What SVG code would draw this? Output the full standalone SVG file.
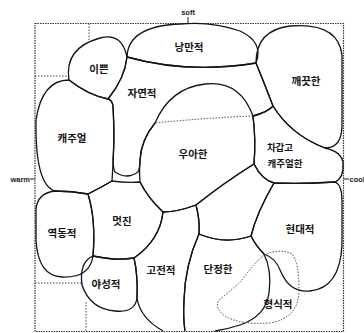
<svg xmlns="http://www.w3.org/2000/svg" width="364" height="333" viewBox="0 0 364 333">
<style>
.b{fill:none;stroke:#141414;stroke-width:1.3;stroke-linejoin:round}
.k{font-family:"Noto Sans CJK KR","Noto Sans",sans-serif;font-size:10.5px;font-weight:700;fill:#151515;text-anchor:middle;dominant-baseline:central}
.ax{font-family:"Liberation Sans",Arial,sans-serif;font-size:7.5px;font-weight:700;fill:#222;dominant-baseline:central}
.frame{fill:none;stroke:#333;stroke-width:1.2;stroke-dasharray:1.5 1}
.dot{fill:none;stroke:#444;stroke-width:1;stroke-dasharray:1.5 1.5}
.tick{stroke:#222;stroke-width:1}
</style>
<rect width="364" height="333" fill="#ffffff"/>
<g id="axes">
<rect class="frame" x="35" y="23.5" width="308.5" height="308"/>
<path class="dot" d="M89,23.5 V42"/>
<path class="dot" d="M35,76 H67"/>
<path class="dot" d="M35,283 H82"/>
<path class="dot" d="M86,302 V331.5"/>
<path class="tick" d="M188,17 V23.5"/>
<path class="tick" d="M30,179 H35"/>
<path class="tick" d="M343.5,179 H349"/>
<text class="ax" x="188" y="12.5" text-anchor="middle">soft</text>
<text class="ax" x="30" y="179" text-anchor="end">warm</text>
<text class="ax" x="349.5" y="179">cool</text>
</g>
<g id="romantic"><path class="b" d="M127,57 Q188,74 256,63 Q264,42 240,31 Q212,21 180,24 Q128,26 127,57 Z"/><text class="k" x="189" y="46">낭만적</text></g>
<g id="pretty"><path class="b" d="M69,80 Q64,48 100,38 Q122,32 127,57 Q125,78 108,99 Q88,95 69,80 Z"/><text class="k" x="99" y="68">이쁜</text></g>
<g id="clean"><path class="b" d="M256,63 Q256,30 290,26 Q338,22 342,55 L342,125 Q342,148 325,148 Q291,135 273,106 Q265,85 256,63 Z"/><text class="k" x="306" y="80">깨끗한</text></g>
<g id="natural"><path class="b" d="M155,123 Q141,140 140,160 Q140,168 138,172 Q127,180 115,172 Q113,168 113,160 Q115,137 113,106 Q112,100 108,99 Q125,78 127,57 Q188,74 256,63 Q265,85 273,106 Q268,112 253,116"/><path class="dot" d="M253,116 Q204,118 155,123"/><text class="k" x="142" y="92">자연적</text></g>
<g id="casual"><path class="b" d="M69,80 Q42,80 36,120 Q35,185 55,191 Q72,191 88,194 Q100,188 112,181 Q115,140 113,106 Q112,100 108,99 Q88,95 69,80 Z"/><text class="k" x="72" y="137">캐주얼</text></g>
<g id="elegant"><path class="b" d="M155,123 Q170,88 205,84 Q240,80 253,116 Q256,140 254,164 Q225,182 196,205 Q177,212 163,212 Q148,198 140,182 Q139,172 140,160 Q141,140 155,123 Z"/><text class="k" x="193" y="153">우아한</text></g>
<g id="cool-casual"><path class="b" d="M253,116 Q268,112 273,106 Q291,135 325,148 Q342,152 343,163 Q344,178 335,182 Q305,184 274,183 Q262,180 254,164 Q256,140 253,116 Z"/><text class="k" x="280" y="147" style="font-size:9.5px">차갑고</text><text class="k" x="285" y="163" style="font-size:9.5px">캐주얼한</text></g>
<g id="unnamed"><path class="b" d="M196,205 Q225,182 254,164 Q262,180 274,183 Q257,212 251,236 Q225,245 199,234 Q200,220 196,205 Z"/></g>
<g id="modern"><path class="b" d="M274,183 Q305,184 335,182 Q342,185 342,200 L342,245 Q340,288 310,291 Q290,293 281,272 Q276,258 264,254 Q256,246 251,236 Q257,212 274,183 Z"/><text class="k" x="300" y="228">현대적</text></g>
<g id="neat"><path class="b" d="M185,331 Q183,318 184,300 Q185,265 199,234 Q225,245 251,236 Q256,246 264,254 Q272,270 269,293 Q266,316 240,325 Q228,329 215,331"/><text class="k" x="218" y="268">단정한</text></g>
<g id="formal"><path class="dot" d="M264,255 Q280,248 292,254 Q299,262 299,290 Q299,318 270,323 Q240,325 225,316 Q214,308 219,300 Q232,290 242,280 Q255,262 264,255 Z"/><text class="k" x="278" y="303">형식적</text></g>
<g id="classic"><path class="b" d="M163,331 Q140,318 137,298 Q138,275 134,258 Q160,240 163,212 Q177,212 196,205 Q200,220 199,234 Q185,265 184,300 Q183,318 185,331"/><text class="k" x="161" y="269">고전적</text></g>
<g id="stylish"><path class="b" d="M88,194 Q100,188 112,181 Q126,183 140,182 Q148,198 163,212 Q160,240 134,258 Q116,261 93,256 Q96,220 88,194 Z"/><text class="k" x="122" y="220">멋진</text></g>
<g id="dynamic"><path class="b" d="M55,191 Q72,191 88,194 Q96,220 93,256 Q90,278 62,277 Q38,276 36,240 L36,210 Q37,193 55,191 Z"/><text class="k" x="62" y="232">역동적</text></g>
<g id="wild"><path class="b" d="M93,256 Q116,261 134,258 Q138,275 137,298 Q135,313 115,311 Q90,309 82,285 Q79,262 93,256 Z"/><text class="k" x="106" y="283">야성적</text></g>
</svg>
